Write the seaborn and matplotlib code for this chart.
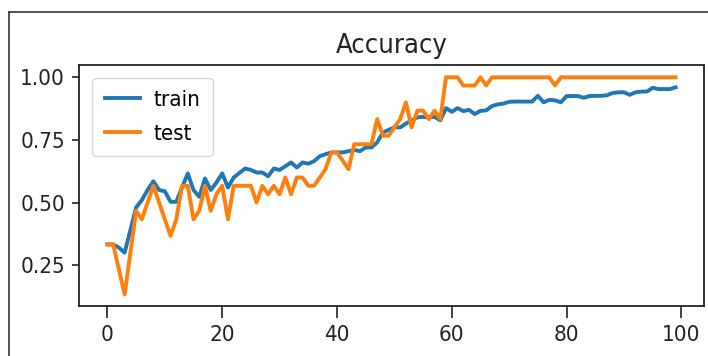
import matplotlib
matplotlib.use("Agg")
import matplotlib.pyplot as plt
import numpy as np
import pandas as pd
import seaborn as sns
from matplotlib import font_manager
from matplotlib.lines import Line2D

# ── Data ─────────────────────────────────────────────────────────────────────
train_acc = [
    0.333, 0.333, 0.320, 0.300, 0.390, 0.480, 0.510, 0.550, 0.585, 0.550,
    0.545, 0.503, 0.503, 0.560, 0.616, 0.550, 0.523, 0.596, 0.550, 0.580,
    0.616, 0.560, 0.600, 0.618, 0.636, 0.630, 0.620, 0.620, 0.605, 0.636,
    0.630, 0.645, 0.660, 0.640, 0.660, 0.655, 0.665, 0.685, 0.693, 0.700,
    0.700, 0.700, 0.705, 0.710, 0.705, 0.720, 0.720, 0.740, 0.780, 0.790,
    0.800, 0.800, 0.815, 0.828, 0.840, 0.842, 0.840, 0.842, 0.828, 0.877,
    0.862, 0.877, 0.865, 0.870, 0.853, 0.866, 0.868, 0.885, 0.892, 0.895,
    0.902, 0.903, 0.903, 0.903, 0.903, 0.926, 0.900, 0.910, 0.908, 0.900,
    0.925, 0.925, 0.925, 0.918, 0.925, 0.926, 0.926, 0.928, 0.937, 0.940,
    0.940, 0.930, 0.940, 0.943, 0.943, 0.958, 0.953, 0.953, 0.953, 0.960,
]
test_acc = [
    0.333, 0.333, 0.233, 0.133, 0.300, 0.467, 0.433, 0.500, 0.567, 0.500,
    0.433, 0.367, 0.433, 0.567, 0.567, 0.433, 0.467, 0.567, 0.467, 0.533,
    0.567, 0.433, 0.567, 0.567, 0.567, 0.567, 0.500, 0.567, 0.533, 0.567,
    0.533, 0.600, 0.533, 0.600, 0.600, 0.567, 0.567, 0.600, 0.633, 0.700,
    0.700, 0.667, 0.633, 0.733, 0.733, 0.733, 0.733, 0.833, 0.767, 0.767,
    0.800, 0.833, 0.900, 0.800, 0.867, 0.867, 0.833, 0.867, 0.833, 1.000,
    1.000, 1.000, 0.967, 0.967, 0.967, 1.000, 0.967, 1.000, 1.000, 1.000,
    1.000, 1.000, 1.000, 1.000, 1.000, 1.000, 1.000, 1.000, 0.967, 1.000,
    1.000, 1.000, 1.000, 1.000, 1.000, 1.000, 1.000, 1.000, 1.000, 1.000,
    1.000, 1.000, 1.000, 1.000, 1.000, 1.000, 1.000, 1.000, 1.000, 1.000,
]
epochs = np.arange(len(train_acc))
series_names = ["train", "test"]
series_colors = ["#1f77b4", "#ff7f0e"]
x_ticks = [0, 20, 40, 60, 80, 100]
y_ticks = [0.25, 0.50, 0.75, 1.00]

# ── Font: the reference text is horizontally squeezed, look for a narrow face ─
def is_regular(f):
    low = f.fname.lower()
    return f.style == "normal" and "bold" not in low and "oblique" not in low \
        and "italic" not in low and "light" not in low


narrow = None
for f in font_manager.fontManager.ttflist:
    if f.name == "DejaVu Sans" and "ondensed" in f.fname and is_regular(f):
        narrow = f.fname
        break
if narrow is None:
    for f in font_manager.fontManager.ttflist:
        if ("Narrow" in f.name or "Condensed" in f.name) and is_regular(f):
            narrow = f.fname
            break

if narrow:
    tick_font = font_manager.FontProperties(fname=narrow, size=16)
    title_font = font_manager.FontProperties(fname=narrow, size=19.5)
else:
    tick_font = font_manager.FontProperties(family="DejaVu Sans", size=15)
    title_font = font_manager.FontProperties(family="DejaVu Sans", size=19)

df = pd.DataFrame({"epoch": epochs, "train": train_acc, "test": test_acc})

fig = plt.figure(figsize=(7.08, 3.56), dpi=100)
ax = fig.add_axes([0.1116, 0.1404, 0.8828, 0.6784])

for name, color in zip(series_names, series_colors):
    sns.lineplot(data=df, x="epoch", y=name, color=color, linewidth=2.8,
                 label=name, errorbar=None, ax=ax)

ax.set_xlim(-4.95, 103.95)
ax.set_ylim(0.087, 1.051)
ax.set_xticks(x_ticks)
ax.set_yticks(y_ticks)
ax.set_xticklabels([str(v) for v in x_ticks], fontproperties=tick_font)
ax.set_yticklabels([f"{v:.2f}" for v in y_ticks], fontproperties=tick_font)
ax.set_xlabel("")
ax.set_ylabel("")
ax.tick_params(axis="both", width=1.2, pad=5, colors="#222222")
ax.tick_params(axis="x", length=8.5)
ax.tick_params(axis="y", length=5)
for sp in ax.spines.values():
    sp.set_linewidth(1.3)
    sp.set_color("#222222")

ax.set_title("Accuracy", fontproperties=title_font, pad=8, color="#222222")
ax.legend(loc="upper left", prop=tick_font, handlelength=1.6, handletextpad=0.6,
          labelspacing=0.62, borderpad=0.55, borderaxespad=0.6)

# screenshot frame on left and top edges
fig.add_artist(Line2D([0.0127, 0.0127], [0.0, 0.966], transform=fig.transFigure,
                      color="#333333", linewidth=1.2))
fig.add_artist(Line2D([0.0127, 1.0], [0.966, 0.966], transform=fig.transFigure,
                      color="#333333", linewidth=1.2))

fig.savefig("out.png", dpi=100)
plt.close(fig)
